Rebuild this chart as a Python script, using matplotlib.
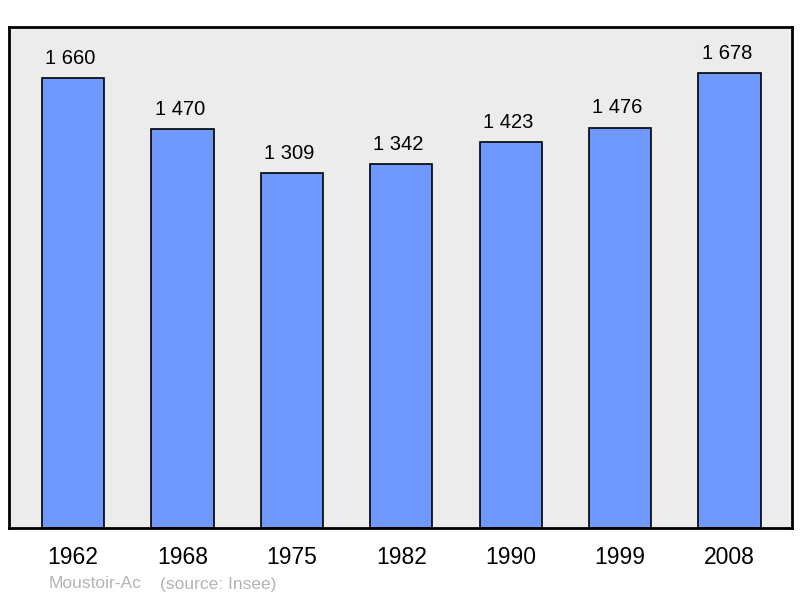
import matplotlib
matplotlib.use("Agg")
import matplotlib.pyplot as plt

plt.rcParams["font.family"] = ["Liberation Sans", "DejaVu Sans"]

years = ["1962", "1968", "1975", "1982", "1990", "1999", "2008"]
population = [1660, 1470, 1309, 1342, 1423, 1476, 1678]
labels = ["1 660", "1 470", "1 309", "1 342", "1 423", "1 476", "1 678"]

fig = plt.figure(figsize=(8.0, 5.98), dpi=100)
ax = fig.add_axes([9 / 800, 1 - 528 / 598, 783 / 800, 501 / 598])
ax.set_facecolor("#ececec")

x = list(range(len(years)))
ax.bar(x, population, width=0.57, color="#7099ff", edgecolor="black", linewidth=1.2, zorder=2)
for xi, v, lab in zip(x, population, labels):
    ax.annotate(lab, (xi, v), xytext=(-2, 7.5), textcoords="offset points",
                ha="center", va="bottom", fontsize=14.5)

ax.set_xlim(-0.585, 6.571)
ax.set_ylim(0, 1848)
ax.set_yticks([])
ax.set_xticks(x)
ax.set_xticklabels(years, fontsize=16.5)
ax.tick_params(axis="x", length=0, pad=13)
for s in ax.spines.values():
    s.set_linewidth(2)
    s.set_color("black")

fig.text(49 / 800, 1 - 584 / 598, "Moustoir-Ac", fontsize=12.5,
         color="#b4b4b4", ha="left", va="center")
fig.text(160 / 800, 1 - 584 / 598, "(source: Insee)", fontsize=12.5,
         color="#b4b4b4", ha="left", va="center")

fig.savefig("out.png", dpi=100)
